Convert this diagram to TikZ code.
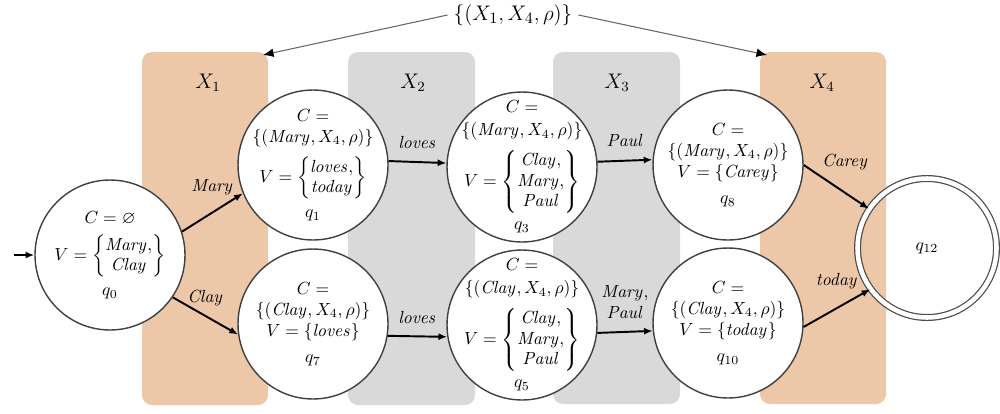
\documentclass[tikz,border=0pt]{standalone}
\usepackage{amsmath,amssymb}
\usetikzlibrary{arrows.meta}
\definecolor{bandorange}{RGB}{236,199,168}
\definecolor{bandgrey}{RGB}{217,217,217}
\newcommand{\vset}[1]{\left\{\renewcommand{\arraystretch}{0.95}\begin{matrix}#1\end{matrix}\right\}}
\begin{document}
\begin{tikzpicture}[x=0.02cm,y=-0.02cm,
  band/.style={rounded corners=0.2cm},
  bandlbl/.style={font=\fontsize{12}{14}\selectfont},
  state/.style={circle, draw=black!75, line width=0.8pt, fill=white, minimum size=3cm, inner sep=0pt},
  stext/.style={align=center, inner sep=0pt, font=\fontsize{10}{12}\selectfont},
  final/.style={circle, draw=black!70, line width=0.7pt, double=white, double distance=2.6pt,
    minimum size=2.78cm, inner sep=0pt, font=\fontsize{10}{12}\selectfont},
  tr/.style={-{Latex[length=5pt,width=4pt]}, line width=1.1pt, black},
  topar/.style={-{Latex[length=6pt,width=5pt,color=black]}, line width=0.6pt, black!60},
  lbl/.style={font=\fontsize{10}{12}\selectfont, align=center, inner sep=1pt}
]
\useasboundingbox (0,0) rectangle (1000,413);

% bands
\fill[bandorange, band] (142,52) rectangle (268,405);
\fill[bandgrey, band] (348,52) rectangle (475,405);
\fill[bandgrey, band] (553,52) rectangle (680,404);
\fill[bandorange, band] (760,52) rectangle (886,404);
\node[bandlbl] (lx1) at (208,83) {$X_1$};
\node[bandlbl] (lx2) at (413,83) {$X_2$};
\node[bandlbl] (lx3) at (617,83) {$X_3$};
\node[bandlbl] (lx4) at (822,83) {$X_4$};

% top constraint label
\node[font=\fontsize{12.5}{14}\selectfont] (top) at (513,15) {$\{(X_1,X_4,\rho)\}$};
\coordinate (c1) at (263,55);
\coordinate (c4) at (767,55);
\draw[topar] (top.west) -- (c1);
\draw[topar] (top.east) -- (c4);

% states
\node[state, label={[stext]center:{$C=\varnothing$\\[5pt] $V=\vset{\mathit{Mary},\\ \mathit{Clay}}$\\[5pt] $q_0$}}] (q0) at (110,255) {};
\node[state, label={[stext]center:{$C=$\\ $\{(\mathit{Mary},X_4,\rho)\}$\\[5pt] $V=\vset{\mathit{loves},\\ \mathit{today}}$\\[5pt] $q_1$}}] (q1) at (313,165) {};
\node[state, label={[stext]center:{$C=$\\ $\{(\mathit{Clay},X_4,\rho)\}$\\ $V=\{\mathit{loves}\}$\\[3pt] $q_7$}}] (q7) at (313,324) {};
\node[state, label={[stext]center:{$C=$\\[1pt] $\{(\mathit{Mary},X_4,\rho)\}$\\[5pt] $V=\vset{\mathit{Clay},\\ \mathit{Mary},\\ \mathit{Paul}}$\\[4pt] $q_3$}}] (q3) at (522,167) {};
\node[state, label={[stext]center:{$C=$\\[1pt] $\{(\mathit{Clay},X_4,\rho)\}$\\[5pt] $V=\vset{\mathit{Clay},\\ \mathit{Mary},\\ \mathit{Paul}}$\\[4pt] $q_5$}}] (q5) at (522,325) {};
\node[state, label={[stext]center:{$C=$\\ $\{(\mathit{Mary},X_4,\rho)\}$\\ $V=\{\mathit{Carey}\}$\\[3pt] $q_8$}}] (q8) at (728,165) {};
\node[state, label={[stext]center:{$C=$\\ $\{(\mathit{Clay},X_4,\rho)\}$\\ $V=\{\mathit{today}\}$\\[3pt] $q_{10}$}}] (q10) at (728,323) {};
\node[final] (q12) at (927,248) {$q_{12}$};

% transitions
\coordinate (start) at (14,255);
\draw[tr] (start) -- (q0.west);
\draw[tr] (q0.18) -- node[lbl, midway, yshift=0.5cm] {$\mathit{Mary}$} (q1.202);
\draw[tr] (q0.-34) -- node[lbl, pos=0.5, yshift=0.36cm] {$\mathit{Clay}$} (q7.188);
\draw[tr] (q1.3) -- node[lbl, midway, yshift=0.4cm] {$\mathit{loves}$} (q3.177);
\draw[tr] (q7.-9) -- node[lbl, midway, yshift=0.38cm] {$\mathit{loves}$} (q5.189);
\draw[tr] (q3.4) -- node[lbl, midway, yshift=0.4cm] {$\mathit{Paul}$} (q8.176);
\draw[tr] (q5.-6) -- node[lbl, midway, yshift=0.6cm] {$\mathit{Mary},$\\ $\mathit{Paul}$} (q10.186);
\draw[tr] (q8.0) -- node[lbl, midway, yshift=0.5cm, xshift=0.18cm] {$\mathit{Carey}$} (q12.146);
\draw[tr] (q10.-3) -- node[lbl, midway, yshift=0.54cm] {$\mathit{today}$} (q12.216);
\end{tikzpicture}
\end{document}
